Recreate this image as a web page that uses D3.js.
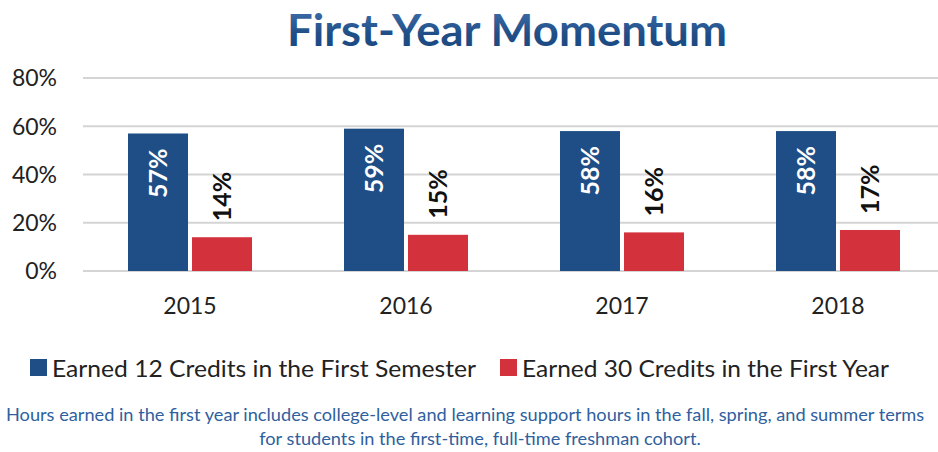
<!DOCTYPE html>
<html lang="en">
<head>
    <meta charset="UTF-8">
    <title>First-Year Momentum</title>
    <script src="https://d3js.org/d3.v7.min.js"></script>
    <style>
        body { margin: 0; padding: 0; background: #ffffff; }
        svg { display: block; }
        text { font-family: Lato, "Open Sans", sans-serif; }
    </style>
</head>
<body>
    <svg width="938" height="452"></svg>
    <script>
        // chart data
        const years = ["2015", "2016", "2017", "2018"];
        const seriesNames = ["Earned 12 Credits in the First Semester", "Earned 30 Credits in the First Year"];
        const credits12 = [57, 59, 58, 58];
        const credits30 = [14, 15, 16, 17];
        const yTicks = [0, 20, 40, 60, 80];
        const colors = ["#1f4e87", "#d3313b"];

        const svg = d3.select("svg");

        const x = d3.scaleBand().domain(years).range([82, 946]);
        const y = d3.scaleLinear().domain([0, 80]).range([271, 78]);
        const barW = 60, gap = 4;

        // title gradient
        const grad = svg.append("defs").append("linearGradient")
            .attr("id", "titleGrad")
            .attr("x1", 0).attr("y1", 0).attr("x2", 0).attr("y2", 1);
        grad.append("stop").attr("offset", "0%").attr("stop-color", "#4573b0");
        grad.append("stop").attr("offset", "60%").attr("stop-color", "#1f4e87");
        grad.append("stop").attr("offset", "100%").attr("stop-color", "#1a4680");

        // gridlines + y labels
        svg.append("g").selectAll("line")
            .data(yTicks)
            .join("line")
            .attr("x1", 83).attr("x2", 938)
            .attr("y1", d => y(d)).attr("y2", d => y(d))
            .attr("stroke", "#d4d4d4")
            .attr("stroke-width", 2);

        svg.append("g").selectAll("text")
            .data(yTicks)
            .join("text")
            .attr("x", 57)
            .attr("y", d => y(d))
            .attr("dy", "0.36em")
            .attr("text-anchor", "end")
            .attr("font-size", 23)
            .attr("fill", "#222")
            .text(d => d + "%");

        // bars
        const rows = years.map((yr, i) => ({ year: yr, vals: [credits12[i], credits30[i]] }));
        const groups = svg.append("g").selectAll("g")
            .data(rows)
            .join("g")
            .attr("transform", d => `translate(${x(d.year) + x.bandwidth() / 2},0)`);

        groups.selectAll("rect")
            .data(d => d.vals)
            .join("rect")
            .attr("x", (d, i) => i === 0 ? -barW - gap / 2 : gap / 2)
            .attr("width", barW)
            .attr("y", d => y(d))
            .attr("height", d => y(0) - y(d))
            .attr("fill", (d, i) => colors[i]);

        // value labels
        groups.selectAll("text.val")
            .data(d => d.vals)
            .join("text")
            .attr("class", "val")
            .attr("transform", (d, i) => {
                const cx = i === 0 ? -barW / 2 - gap / 2 : barW / 2 + gap / 2;
                const ty = i === 0 ? y(d) + 15 : y(d) - 16;
                return `translate(${cx},${ty}) rotate(-90)`;
            })
            .attr("text-anchor", (d, i) => i === 0 ? "end" : "start")
            .attr("dy", "0.36em")
            .attr("font-size", 25)
            .attr("font-weight", "bold")
            .attr("fill", (d, i) => i === 0 ? "#ffffff" : "#111")
            .text(d => d + "%");

        // x labels
        svg.append("g").selectAll("text")
            .data(years)
            .join("text")
            .attr("x", d => x(d) + x.bandwidth() / 2)
            .attr("y", 314)
            .attr("text-anchor", "middle")
            .attr("font-size", 23)
            .attr("fill", "#222")
            .text(d => d);

        // title
        svg.append("text")
            .attr("x", 287)
            .attr("y", 46)
            .attr("textLength", 440)
            .attr("lengthAdjust", "spacingAndGlyphs")
            .attr("font-size", 43)
            .attr("font-weight", "bold")
            .attr("fill", "url(#titleGrad)")
            .text("First-Year Momentum");

        // legend
        const legendX = [30, 500];
        const legendW = [424, 367];
        const legend = svg.append("g").selectAll("g")
            .data(seriesNames)
            .join("g")
            .attr("transform", (d, i) => `translate(${legendX[i]},359)`);
        legend.append("rect")
            .attr("width", 17).attr("height", 17)
            .attr("fill", (d, i) => colors[i]);
        legend.append("text")
            .attr("x", 22)
            .attr("y", 18)
            .attr("textLength", (d, i) => legendW[i])
            .attr("lengthAdjust", "spacingAndGlyphs")
            .attr("font-size", 24)
            .attr("fill", "#222")
            .text(d => d);

        // footnote
        const notes = [
            "Hours earned in the first year includes college-level and learning support hours in the fall, spring, and summer terms",
            "for students in the first-time, full-time freshman cohort."
        ];
        svg.append("g").selectAll("text")
            .data(notes)
            .join("text")
            .attr("x", (d, i) => i === 0 ? 6 : 480)
            .attr("y", (d, i) => 421 + i * 24)
            .attr("text-anchor", (d, i) => i === 0 ? "start" : "middle")
            .attr("font-size", 18.2)
            .attr("fill", "#2f5f9e")
            .text(d => d);
    </script>
</body>
</html>
